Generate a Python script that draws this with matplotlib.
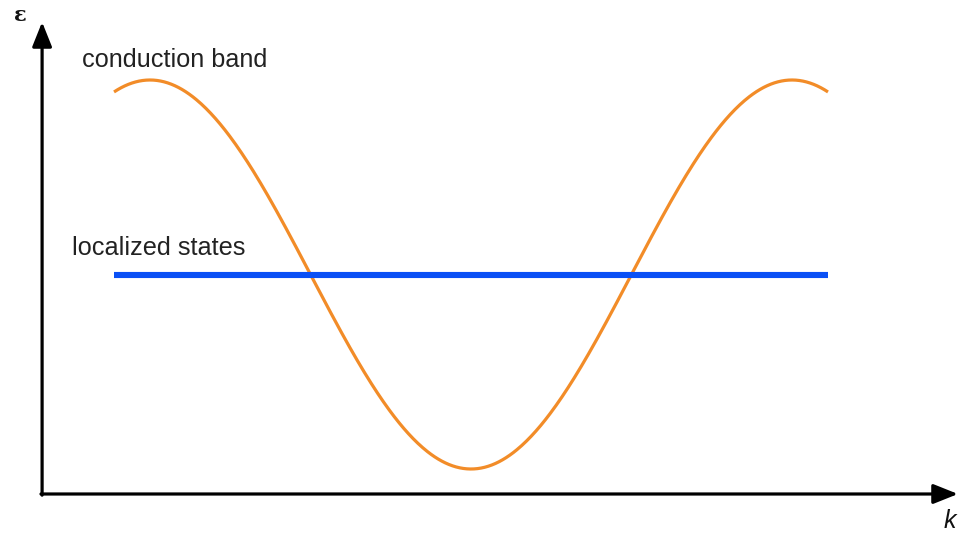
import matplotlib
matplotlib.use('Agg')
import matplotlib.pyplot as plt
import numpy as np

# band model: eps(k) = band_center - half_width * cos(k), k in units of 1/a
k_start, k_stop = -3.494, 3.494
band_center = 0.0
half_width = 1.0
localized_level = 0.0

# axes frame (data units)
k_origin, eps_origin = -4.198, -1.1285
k_axis_end, eps_axis_end = 4.766, 1.298

labels = {"band": "conduction band", "level": "localized states"}

fig = plt.figure(figsize=(9.6, 5.37), dpi=100)
ax = fig.add_axes([0, 0, 1, 1])
ax.set_xlim(-4.610, 4.786)
ax.set_ylim(-1.3496, 1.4113)
ax.axis('off')

k = np.linspace(k_start, k_stop, 600)
eps = band_center - half_width * np.cos(k)
ax.plot(k, eps, color='#F28C28', lw=2.3, solid_capstyle='butt')
ax.plot([k_start, k_stop], [localized_level, localized_level],
        color='#0A50F5', lw=4.4, solid_capstyle='butt')

arrow = dict(arrowstyle='-|>,head_length=1.5,head_width=0.6',
             color='black', lw=2.3, shrinkA=0, shrinkB=0)
ax.annotate('', xy=(k_origin, eps_axis_end), xytext=(k_origin, eps_origin - 0.006),
            arrowprops=arrow)
ax.annotate('', xy=(k_axis_end, eps_origin), xytext=(k_origin - 0.011, eps_origin),
            arrowprops=arrow)

ax.text(-4.414, 1.334, 'ε', fontsize=15, fontweight='bold',
        family='DejaVu Serif', ha='center', va='center', color='#111111')
ax.text(4.75, -1.305, 'k', fontsize=18, style='italic', family='Liberation Sans',
        ha='right', va='baseline', color='#111111')

ax.text(-3.81, 1.105, labels["band"], fontsize=18.2, family='Liberation Sans',
        ha='left', va='center', color='#222222')
ax.text(-3.91, 0.135, labels["level"], fontsize=18.2, family='Liberation Sans',
        ha='left', va='center', color='#222222')

fig.savefig('out.png', dpi=100, facecolor='white')
